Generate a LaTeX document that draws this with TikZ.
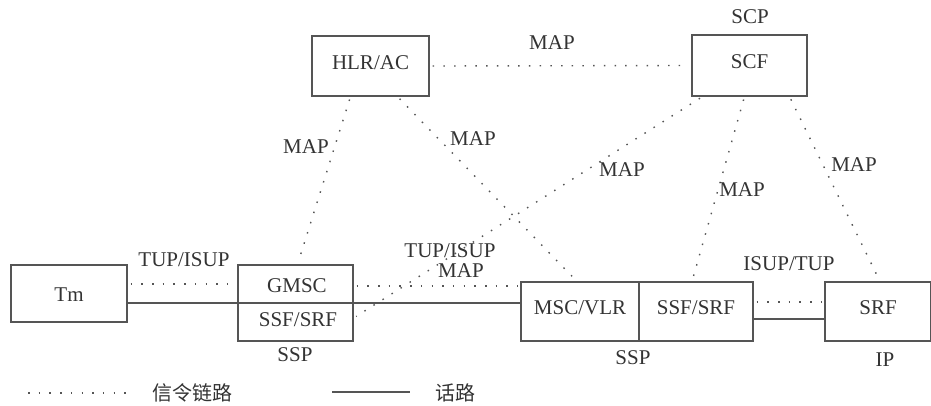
\documentclass[tikz,border=0pt]{standalone}
\usepackage{fontspec}
\setmainfont{Liberation Serif}
\newfontfamily\cjk{Noto Sans CJK SC}
\usetikzlibrary{calc}
\definecolor{ink}{HTML}{333333}
\definecolor{wire}{HTML}{555555}
\tikzset{
  unitbox/.style={draw=wire, line width=1.2pt, rectangle, inner sep=0pt,
    font=\fontsize{21}{25}\selectfont, text=ink, text height=0.66em, text depth=0pt},
  lbl/.style={inner sep=0pt, font=\fontsize{21}{25}\selectfont, text=ink,
    text height=0.66em, text depth=0pt},
  cjklbl/.style={inner sep=0pt, font=\cjk\fontsize{20}{24}\selectfont, text=ink},
  sig/.style={draw=wire, line width=1.4pt, dash pattern=on 1.5pt off 9.2pt,
    shorten <=3pt, shorten >=3pt},
  voice/.style={draw=wire, line width=1.1pt}
}
\begin{document}
\begin{tikzpicture}[x=1pt, y=-1pt]
\useasboundingbox (0,0) rectangle (931,405);

% network elements
\node[unitbox, minimum width=116pt, minimum height=57pt] (tm) at (69,293.5) {};
\node[lbl] (tmtext) at (69,298) {Tm};
\node[unitbox, minimum width=115pt, minimum height=76pt] (gm) at (295.5,303) {};
\node[lbl] (gmsc) at (297,289) {GMSC};
\node[lbl] (gmssf) at (298,323) {SSF/SRF};
\node[unitbox, minimum width=118pt, minimum height=59pt] (msc) at (580,311.5) {MSC/VLR};
\node[unitbox, minimum width=114pt, minimum height=59pt] (ssf) at (696,311.5) {SSF/SRF};
\node[unitbox, minimum width=106pt, minimum height=59pt] (srf) at (878,311.5) {SRF};
\node[unitbox, minimum width=117pt, minimum height=60pt] (hlr) at (370.5,66) {HLR/AC};
\node[unitbox, minimum width=115pt, minimum height=61pt] (scf) at (749.5,65.5) {SCF};

% signalling links
\draw[sig] (hlr.east) -- (scf.west);
\draw[sig] ([xshift=-20pt]hlr.south) -- ([xshift=2pt]gm.north);
\draw[sig] ([xshift=27pt]hlr.south) -- ([xshift=-3pt]msc.north);
\draw[sig] ([xshift=-47pt]scf.south) -- ([yshift=-15pt]gm.east);
\draw[sig] ([xshift=-5pt]scf.south) -- ([xshift=-4pt]ssf.north);
\draw[sig] ([xshift=40pt]scf.south) -- ([xshift=2pt]srf.north);

\coordinate (tmsig) at ([yshift=9.5pt]tm.east);
\draw[sig] (tmsig) -- (tmsig -| gm.west);
\coordinate (gmsig) at ([yshift=17pt]gm.east);
\draw[sig] (gmsig) -- (gmsig -| msc.west);
\coordinate (ssfsig) at ([yshift=9.5pt]ssf.east);
\draw[sig] (ssfsig) -- (ssfsig -| srf.west);

% speech paths
\draw[voice] (tm.east |- gm.center) -- (msc.west |- gm.center);
\coordinate (ssfvoice) at ([yshift=-7.5pt]ssf.east);
\draw[voice] (ssfvoice) -- (ssfvoice -| srf.west);

% link labels
\node[lbl] (l1) at (552,46) {MAP};
\node[lbl] (l2) at (306,150) {MAP};
\node[lbl] (l3) at (473,142) {MAP};
\node[lbl] (l4) at (622,173) {MAP};
\node[lbl] (l5) at (742,193) {MAP};
\node[lbl] (l6) at (854,168) {MAP};
\node[lbl] (l7) at (184,263) {TUP/ISUP};
\node[lbl] (l8) at (450,254) {TUP/ISUP};
\node[lbl] (l9) at (461,274) {MAP};
\node[lbl] (l10) at (789,267) {ISUP/TUP};

% node group labels
\node[lbl] (scp) at (750,20) {SCP};
\node[lbl] (ssp1) at (295,358) {SSP};
\node[lbl] (ssp2) at (633,361) {SSP};
\node[lbl] (ip) at (885,363) {IP};

% legend
\coordinate (lga) at (28,393);
\coordinate (lgb) at (128,393);
\draw[sig, shorten <=0pt, shorten >=0pt] (lga) -- (lgb);
\node[cjklbl] (lgsig) at (192,393) {信令链路};
\coordinate (lgc) at (332,392);
\coordinate (lgd) at (410,392);
\draw[voice] (lgc) -- (lgd);
\node[cjklbl] (lgvoice) at (455,393) {话路};
\end{tikzpicture}
\end{document}
